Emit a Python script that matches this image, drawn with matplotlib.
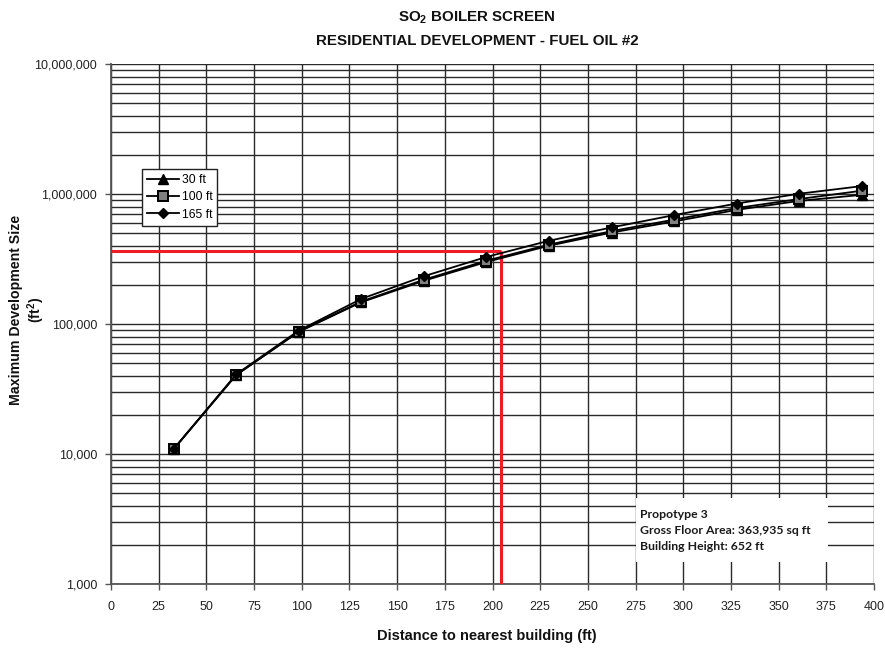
import matplotlib
matplotlib.use("Agg")
import matplotlib.pyplot as plt
from matplotlib.ticker import FixedLocator, FuncFormatter, LogLocator, NullFormatter
from matplotlib.patches import Rectangle

plt.rcParams['font.family'] = ['Liberation Sans', 'DejaVu Sans']
plt.rcParams['mathtext.fontset'] = 'custom'
plt.rcParams['mathtext.rm'] = 'Liberation Sans'
plt.rcParams['mathtext.bf'] = 'Liberation Sans:bold'
plt.rcParams['mathtext.it'] = 'Liberation Sans:italic'

# ---- data ----
distance_ft = [32.8, 65.6, 98.4, 131.2, 164.0, 196.8, 229.6, 262.4, 295.2, 328.0, 360.8, 393.6]
size_30ft = [10900, 40500, 87000, 147000, 215000, 300000, 400000, 505000, 615000, 755000, 885000, 985000]
size_100ft = [10900, 40500, 87500, 149000, 219000, 307000, 408000, 518000, 635000, 780000, 915000, 1060000]
size_165ft = [10900, 41000, 89000, 156000, 233000, 328000, 437000, 553000, 688000, 845000, 1005000, 1150000]
series_labels = ['30 ft', '100 ft', '165 ft']

gross_floor_area = 363935
threshold_distance = 204.5

x_ticks = list(range(0, 401, 25))
y_major = [1000, 10000, 100000, 1000000, 10000000]

title_lines = [r"SO$_\mathbf{2}$ BOILER SCREEN", "RESIDENTIAL DEVELOPMENT - FUEL OIL #2"]
x_label = "Distance to nearest building (ft)"
y_label = "Maximum Development Size\n(ft$^\\mathbf{2}$)"
note_lines = ["Propotype 3", "Gross Floor Area: 363,935 sq ft", "Building Height: 652 ft"]

# ---- figure ----
fig = plt.figure(figsize=(8.85, 6.48), dpi=100)
ax = fig.add_axes([111 / 885, 1 - 584 / 648, (874 - 111) / 885, (584 - 64) / 648])

ax.set_yscale('log')
ax.set_xlim(0, 400)
ax.set_ylim(1000, 10000000)

ax.xaxis.set_major_locator(FixedLocator(x_ticks))
ax.yaxis.set_major_locator(FixedLocator(y_major))
ax.yaxis.set_minor_locator(LogLocator(base=10, subs=range(2, 10)))
ax.yaxis.set_minor_formatter(NullFormatter())
ax.yaxis.set_major_formatter(FuncFormatter(lambda v, p: f"{int(round(v)):,}"))

ax.grid(which='major', axis='both', color='#2a2a2a', linewidth=1.0, zorder=0)
ax.grid(which='minor', axis='y', color='#2a2a2a', linewidth=1.0, zorder=0)
ax.set_axisbelow(True)

for s in ['top', 'right']:
    ax.spines[s].set_visible(False)
for s in ['left', 'bottom']:
    ax.spines[s].set_color('#555555')
    ax.spines[s].set_linewidth(1.3)

ax.tick_params(axis='both', which='major', length=4, width=1, color='#555555',
               labelsize=9, labelcolor='#222222')
ax.tick_params(axis='x', pad=8)
ax.tick_params(axis='y', pad=6)
ax.tick_params(axis='y', which='minor', length=0)

# red reference lines
ax.plot([0, threshold_distance], [gross_floor_area, gross_floor_area],
        color='#ee1c25', linewidth=2.2, zorder=3, solid_capstyle='butt')
ax.plot([threshold_distance, threshold_distance], [1000, gross_floor_area],
        color='#ee1c25', linewidth=2.2, zorder=3, solid_capstyle='butt')

ax.plot(distance_ft, size_30ft, color='black', linewidth=1.3, marker='^',
        markersize=7, markerfacecolor='black', markeredgecolor='black',
        label=series_labels[0], zorder=4)
ax.plot(distance_ft, size_100ft, color='black', linewidth=1.3, marker='s',
        markersize=7, markerfacecolor='#808080', markeredgecolor='black',
        markeredgewidth=1.4, label=series_labels[1], zorder=4)
ax.plot(distance_ft, size_165ft, color='black', linewidth=1.3, marker='D',
        markersize=5.5, markerfacecolor='black', markeredgecolor='black',
        label=series_labels[2], zorder=5)

leg = ax.legend(loc='upper left', bbox_to_anchor=(142 / 885, 1 - 169 / 648),
                bbox_transform=fig.transFigure, borderaxespad=0,
                fancybox=False, shadow=False, framealpha=1, fontsize=8.7,
                handlelength=2.7, handletextpad=0.2, labelspacing=0.45,
                borderpad=0.4, edgecolor='#222222')
leg.get_frame().set_linewidth(1.0)
leg.set_zorder(10)

# note box
ax.add_patch(Rectangle(((636 - 111) / 763, (584 - 562) / 520),
                       (828 - 636) / 763, (562 - 498) / 520,
                       transform=ax.transAxes, facecolor='white',
                       edgecolor='none', zorder=6))
for i, line in enumerate(note_lines):
    ax.text((640 - 111) / 763, (584 - (514 + 16.3 * i)) / 520, line,
            transform=ax.transAxes, fontsize=8.8, fontweight='bold',
            family=['Lato', 'DejaVu Sans'], color='#1a1a1a',
            va='center', ha='left', zorder=7)

# titles and labels
fig.text(477 / 885, 1 - 18 / 648, title_lines[0], ha='center', va='center',
         fontsize=10.9, fontweight='bold', color='#111111')
fig.text(477 / 885, 1 - 41 / 648, title_lines[1], ha='center', va='center',
         fontsize=10.9, fontweight='bold', color='#111111')
fig.text(487 / 885, 1 - 636 / 648, x_label, ha='center', va='center',
         fontsize=10.5, fontweight='bold', color='#111111')
fig.text(28 / 885, 1 - 310 / 648, y_label, ha='center', va='center',
         rotation=90, fontsize=10.2, fontweight='bold', color='#111111',
         multialignment='center', linespacing=1.15)

fig.savefig('out.png', dpi=100)
